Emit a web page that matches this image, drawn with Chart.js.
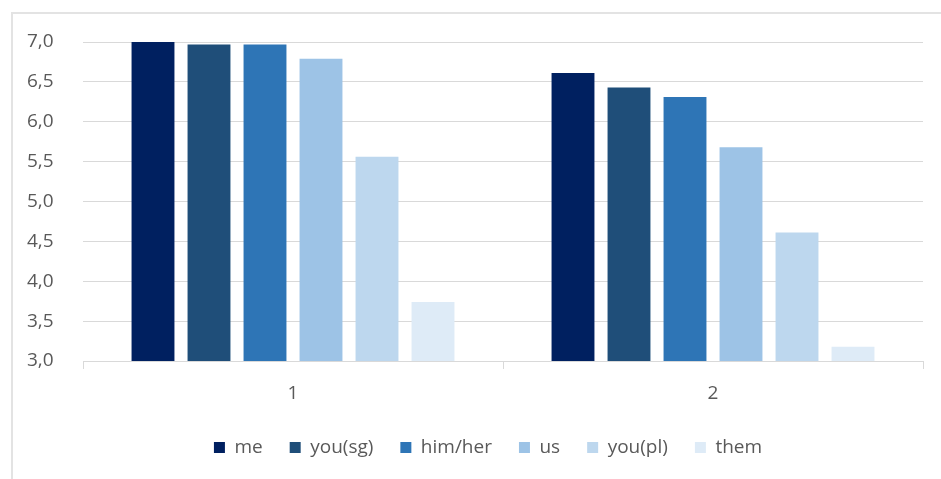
<!DOCTYPE html>
<html>
<head>
<meta charset="utf-8">
<script src="https://cdn.jsdelivr.net/npm/chart.js@4/dist/chart.umd.min.js"></script>
<style>
  html, body { margin: 0; padding: 0; background: #fff; }
  #wrap { position: relative; width: 941px; height: 479px; overflow: hidden; }
  #frame { position: absolute; left: 11px; top: 12px; width: 960px; height: 500px;
           border-left: 2px solid #e3e3e3; border-top: 2px solid #e3e3e3; box-sizing: border-box; }
  #c { position: absolute; left: 0; top: 0; }
</style>
</head>
<body>
<div id="wrap">
  <div id="frame"></div>
  <canvas id="c" width="941" height="479"></canvas>
</div>
<script>
// Groups along the x axis
const categories = ['1', '2'];

// Pronoun series and their values per group
const seriesNames = ['me', 'you(sg)', 'him/her', 'us', 'you(pl)', 'them'];
const me     = [7.00, 6.61];
const youSg  = [6.97, 6.43];
const himHer = [6.97, 6.31];
const us     = [6.79, 5.68];
const youPl  = [5.56, 4.61];
const them   = [3.74, 3.18];

// Value axis tick labels (decimal comma)
const yTickValues = [3.0, 3.5, 4.0, 4.5, 5.0, 5.5, 6.0, 6.5, 7.0];
const yTickLabels = ['3,0', '3,5', '4,0', '4,5', '5,0', '5,5', '6,0', '6,5', '7,0'];

const seriesValues = [me, youSg, himHer, us, youPl, them];
const seriesColors = ['#002060', '#1f4e79', '#2e75b6', '#9dc3e6', '#bdd7ee', '#deebf7'];

const textColor = '#595959';
const gridColor = '#d9d9d9';
const fontFamily = '"Open Sans", "Noto Sans", sans-serif';
const fontSize = 19;

new Chart(document.getElementById('c'), {
  type: 'bar',
  data: {
    labels: categories,
    datasets: seriesNames.map((name, i) => ({
      label: name,
      data: seriesValues[i],
      backgroundColor: seriesColors[i],
      borderWidth: 0,
      categoryPercentage: 0.80,
      barPercentage: 0.766
    }))
  },
  options: {
    responsive: false,
    animation: false,
    devicePixelRatio: 1,
    layout: { padding: { left: 53, right: 18, top: 42, bottom: 12 } },
    plugins: {
      tooltip: { enabled: false },
      legend: {
        position: 'bottom',
        labels: {
          color: textColor,
          font: { family: fontFamily, size: fontSize },
          boxWidth: 11,
          boxHeight: 11,
          padding: 27
        }
      }
    },
    scales: {
      x: {
        offset: true,
        afterFit: (scale) => { scale.height = 50; },
        grid: {
          offset: true,
          drawOnChartArea: false,
          drawTicks: true,
          tickLength: 8,
          color: gridColor
        },
        border: { display: true, color: gridColor, width: 1 },
        ticks: {
          color: textColor,
          font: { family: fontFamily, size: fontSize },
          padding: 13
        }
      },
      y: {
        min: 3,
        max: 7,
        afterFit: (scale) => { scale.width = 30; },
        afterBuildTicks: (scale) => {
          scale.ticks = yTickValues.map(v => ({ value: v }));
        },
        grid: { color: gridColor, drawTicks: false },
        border: { display: false },
        ticks: {
          // labels sit in the left margin, right-aligned
          mirror: true,
          crossAlign: 'far',
          padding: -56,
          color: textColor,
          font: { family: fontFamily, size: fontSize },
          callback: (value) => {
            const idx = yTickValues.indexOf(value);
            return idx >= 0 ? yTickLabels[idx] : '';
          }
        }
      }
    }
  }
});
</script>
</body>
</html>
